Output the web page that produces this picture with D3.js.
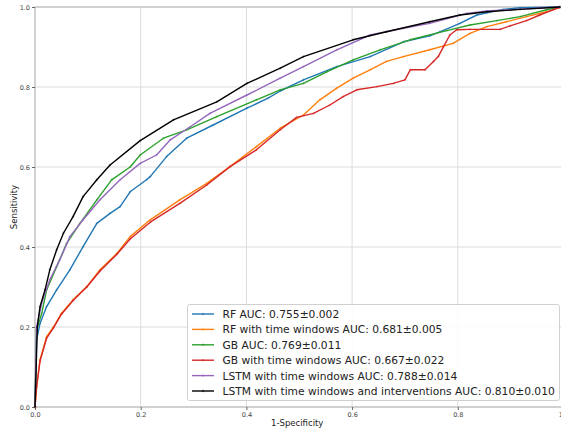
<!DOCTYPE html>
<html>
<head>
<meta charset="utf-8">
<script src="https://cdn.jsdelivr.net/npm/d3@7/dist/d3.min.js"></script>
<style>
  html, body { margin: 0; padding: 0; background: #fff; }
  svg { display: block; font-family: "DejaVu Sans", sans-serif; }
</style>
</head>
<body>
<svg id="chart" width="561" height="432"></svg>
<script>
// ---- Data ----
const xTicks = [0.0, 0.2, 0.4, 0.6, 0.8, 1.0];
const yTicks = [0.0, 0.2, 0.4, 0.6, 0.8, 1.0];
const xLabel = "1-Specificity";
const yLabel = "Sensitivity";

const seriesNames = [
  "RF AUC: 0.755\u00b10.002",
  "RF with time windows AUC: 0.681\u00b10.005",
  "GB AUC: 0.769\u00b10.011",
  "GB with time windows AUC: 0.667\u00b10.022",
  "LSTM with time windows AUC: 0.788\u00b10.014",
  "LSTM with time windows and interventions AUC: 0.810\u00b10.010"
];
const seriesColors = ["#1f77b4", "#ff7f0e", "#2ca02c", "#d62728", "#9467bd", "#000000"];

const rfFpr  = [0, 0.003, 0.0095, 0.022, 0.041, 0.066, 0.091, 0.117, 0.142, 0.161, 0.18, 0.211, 0.218, 0.249, 0.287, 0.337, 0.401, 0.441, 0.464, 0.508, 0.571, 0.634, 0.697, 0.747, 0.766, 0.804, 0.836, 0.886, 0.918, 0.993];
const rfTpr  = [0, 0.168, 0.209, 0.251, 0.293, 0.343, 0.401, 0.459, 0.484, 0.501, 0.538, 0.568, 0.576, 0.626, 0.672, 0.705, 0.747, 0.772, 0.79, 0.818, 0.851, 0.876, 0.913, 0.928, 0.938, 0.959, 0.98, 0.994, 0.998, 1.0];

const rfTwFpr = [0, 0.003, 0.0095, 0.022, 0.035, 0.05, 0.072, 0.098, 0.123, 0.155, 0.18, 0.218, 0.274, 0.325, 0.369, 0.419, 0.464, 0.508, 0.539, 0.571, 0.602, 0.634, 0.665, 0.697, 0.747, 0.791, 0.823, 0.855, 0.892, 0.93, 0.968, 0.993];
const rfTwTpr = [0, 0.051, 0.118, 0.176, 0.20, 0.234, 0.268, 0.301, 0.343, 0.384, 0.426, 0.468, 0.518, 0.559, 0.601, 0.651, 0.697, 0.73, 0.768, 0.797, 0.822, 0.843, 0.864, 0.876, 0.893, 0.909, 0.934, 0.951, 0.963, 0.976, 0.988, 0.999];

const gbFpr  = [0, 0.003, 0.0127, 0.022, 0.041, 0.06, 0.085, 0.117, 0.145, 0.18, 0.199, 0.243, 0.287, 0.344, 0.419, 0.464, 0.508, 0.552, 0.602, 0.653, 0.71, 0.779, 0.823, 0.874, 0.918, 0.968, 0.993];
const gbTpr  = [0, 0.193, 0.234, 0.293, 0.351, 0.409, 0.459, 0.518, 0.568, 0.60, 0.63, 0.672, 0.693, 0.726, 0.768, 0.793, 0.809, 0.838, 0.868, 0.893, 0.918, 0.941, 0.955, 0.966, 0.976, 0.993, 1.0];

const gbTwFpr = [0, 0.003, 0.0095, 0.022, 0.035, 0.05, 0.072, 0.098, 0.123, 0.155, 0.18, 0.218, 0.274, 0.325, 0.369, 0.419, 0.464, 0.495, 0.527, 0.558, 0.583, 0.609, 0.647, 0.678, 0.70, 0.71, 0.738, 0.754, 0.763, 0.773, 0.785, 0.798, 0.823, 0.88, 0.899, 0.93, 0.955, 0.98, 0.993];
const gbTwTpr = [0, 0.05, 0.115, 0.172, 0.198, 0.232, 0.266, 0.30, 0.34, 0.382, 0.42, 0.462, 0.509, 0.555, 0.601, 0.643, 0.693, 0.724, 0.734, 0.755, 0.776, 0.793, 0.801, 0.809, 0.818, 0.843, 0.843, 0.864, 0.876, 0.901, 0.93, 0.943, 0.944, 0.944, 0.953, 0.966, 0.98, 0.993, 0.999];

const lstmTwFpr = [0, 0.003, 0.0127, 0.028, 0.047, 0.066, 0.091, 0.123, 0.161, 0.199, 0.23, 0.256, 0.293, 0.331, 0.401, 0.464, 0.508, 0.571, 0.634, 0.697, 0.747, 0.817, 0.855, 0.993];
const lstmTwTpr = [0, 0.20, 0.26, 0.318, 0.368, 0.426, 0.468, 0.518, 0.568, 0.609, 0.63, 0.668, 0.70, 0.734, 0.78, 0.822, 0.851, 0.893, 0.93, 0.947, 0.959, 0.984, 0.99, 1.0];

const lstmIntFpr = [0, 0.0044, 0.0095, 0.019, 0.028, 0.041, 0.054, 0.072, 0.091, 0.117, 0.142, 0.199, 0.262, 0.344, 0.401, 0.464, 0.508, 0.602, 0.665, 0.747, 0.804, 0.855, 0.918, 0.993];
const lstmIntTpr = [0, 0.20, 0.251, 0.293, 0.343, 0.393, 0.435, 0.476, 0.526, 0.568, 0.605, 0.666, 0.718, 0.763, 0.809, 0.847, 0.876, 0.918, 0.938, 0.963, 0.98, 0.988, 0.994, 1.0];

const seriesFpr = [rfFpr, rfTwFpr, gbFpr, gbTwFpr, lstmTwFpr, lstmIntFpr];
const seriesTpr = [rfTpr, rfTwTpr, gbTpr, gbTwTpr, lstmTwTpr, lstmIntTpr];

// ---- Drawing ----
const svg = d3.select("#chart");
const x = d3.scaleLinear().domain([0, 1]).range([35, 563.5]);
const y = d3.scaleLinear().domain([0, 1]).range([407, 7]);

// grid
const grid = svg.append("g");
grid.selectAll("line.vx").data(xTicks).join("line")
  .attr("x1", d => x(d)).attr("x2", d => x(d))
  .attr("y1", y(0)).attr("y2", y(1))
  .attr("stroke", "#dcdcdc").attr("stroke-width", 1);
grid.selectAll("line.hy").data(yTicks).join("line")
  .attr("x1", x(0)).attr("x2", x(1))
  .attr("y1", d => y(d)).attr("y2", d => y(d))
  .attr("stroke", "#dcdcdc").attr("stroke-width", 1);

// frame
svg.append("rect")
  .attr("x", x(0)).attr("y", y(1))
  .attr("width", x(1) - x(0)).attr("height", y(0) - y(1))
  .attr("fill", "none").attr("stroke", "#b5b5b5").attr("stroke-width", 1);

// axes
const fmt = d3.format(".1f");
const xAxis = svg.append("g").attr("transform", `translate(0,${y(0)})`)
  .call(d3.axisBottom(x).tickValues(xTicks).tickFormat(fmt).tickSize(3).tickPadding(2));
const yAxis = svg.append("g").attr("transform", `translate(${x(0)},0)`)
  .call(d3.axisLeft(y).tickValues(yTicks).tickFormat(fmt).tickSize(3).tickPadding(2));
[xAxis, yAxis].forEach(a => {
  a.select(".domain").remove();
  a.selectAll(".tick line").attr("stroke", "#666");
  a.selectAll(".tick text").attr("fill", "#444")
    .style("font-size", "6.5px").style("font-family", "DejaVu Sans, sans-serif");
});

// axis labels
svg.append("text").attr("x", (x(0) + x(1)) / 2 - 2).attr("y", 426)
  .attr("text-anchor", "middle").style("font-size", "8.5px").attr("fill", "#222")
  .text(xLabel);
svg.append("text")
  .attr("transform", `translate(17,${(y(0) + y(1)) / 2}) rotate(-90)`)
  .attr("text-anchor", "middle").style("font-size", "8.5px").attr("fill", "#222")
  .text(yLabel);

// curves
const line = d3.line().x(d => x(d[0])).y(d => y(d[1]));
const curves = svg.append("g");
seriesNames.forEach((name, i) => {
  const pts = seriesFpr[i].map((f, j) => [f, seriesTpr[i][j]]);
  const g = curves.append("g");
  g.append("path").datum(pts)
    .attr("d", line).attr("fill", "none")
    .attr("stroke", seriesColors[i]).attr("stroke-width", 1.4)
    .attr("stroke-linejoin", "round");
  g.selectAll("path.m").data(pts).join("path")
    .attr("d", d => `M${x(d[0]) - 1.2},${y(d[1])}h2.4M${x(d[0])},${y(d[1]) - 1.2}v2.4`)
    .attr("stroke", seriesColors[i]).attr("stroke-width", 0.6).attr("opacity", 0.7);
});

// legend
const lg = svg.append("g");
lg.append("rect").attr("x", 187.5).attr("y", 304.5).attr("width", 372).attr("height", 96)
  .attr("rx", 2).attr("fill", "#fff").attr("fill-opacity", 0.85)
  .attr("stroke", "#d0d0d0").attr("stroke-width", 1);
seriesNames.forEach((name, i) => {
  const cy = 314 + i * 15.4;
  lg.append("line").attr("x1", 192).attr("x2", 214).attr("y1", cy).attr("y2", cy)
    .attr("stroke", seriesColors[i]).attr("stroke-width", 1.4);
  lg.append("path").attr("d", `M201.8,${cy}h2.4M203,${cy - 1.2}v2.4`)
    .attr("stroke", seriesColors[i]).attr("stroke-width", 0.6);
  lg.append("text").attr("x", 222.5).attr("y", cy + 3.9)
    .style("font-size", "10.7px").attr("fill", "#222").text(name);
});
</script>
</body>
</html>
